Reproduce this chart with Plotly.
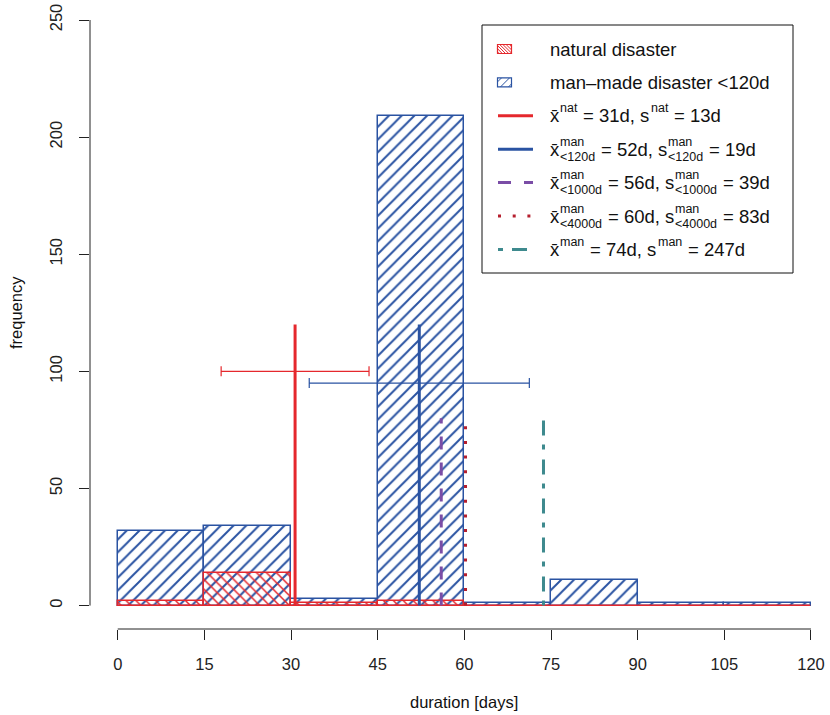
import plotly.graph_objects as go

# ---------------- data ----------------
bin_edges = [0, 15, 30, 45, 60, 75, 90, 105, 120]
man_counts = [32, 34, 3, 209, 1, 11, 1, 1]
nat_counts = [2, 14, 1, 2, 0, 0, 0, 0]

x_tick_vals = [0, 15, 30, 45, 60, 75, 90, 105, 120]
y_tick_vals = [0, 50, 100, 150, 200, 250]

mean_names = ["mean natural", "mean man-made <120d", "mean man-made <1000d",
              "mean man-made <4000d", "mean man-made all"]
mean_days = [30.7, 52.2, 56.0, 60.2, 73.7]
mean_line_top = [120, 120, 80, 80, 80]

sd_names = ["sd natural", "sd man-made <120d"]
sd_center = [30.7, 52.2]
sd_days = [12.8, 19.05]
sd_level = [100, 95]

# ---------------- styles ----------------
RED = "#E5282D"
BLUE = "#2A53A2"
PURPLE = "#7A4DA6"
DRED = "#B51F2E"
TEAL = "#3E8A8E"
AXC = "#222222"
FONT = "Liberation Sans, Arial, Helvetica, sans-serif"

mean_colors = [RED, BLUE, PURPLE, DRED, TEAL]
mean_dash = ["solid", "solid", "13px,13px", "3px,11.7px", "5px,9px,15px,10px"]
sd_colors = [RED, BLUE]

# plot area in pixels
L, R, T, B = 90, 10, 20, 86
W_, H_ = 830, 715
PW = W_ - L - R
PH = H_ - T - B
PX_PER_X = 5.777
x_range = [-4.8, -4.8 + PW / PX_PER_X]
y_range = [-10, 250]


def px(xp):
    return (xp - L) / PW


def py(yp):
    return (H_ - B - yp) / PH


centers = [(a + b) / 2 for a, b in zip(bin_edges[:-1], bin_edges[1:])]
widths = [b - a for a, b in zip(bin_edges[:-1], bin_edges[1:])]

fig = go.Figure()

fig.add_trace(go.Bar(
    x=centers, y=man_counts, width=widths, name="man-made disaster <120d",
    marker=dict(color=BLUE, line=dict(color=BLUE, width=1.5),
                pattern=dict(shape="/", size=9, solidity=0.22, fillmode="replace")),
    showlegend=False))
fig.add_trace(go.Bar(
    x=centers, y=nat_counts, width=widths, name="natural disaster",
    marker=dict(color=RED, line=dict(color=RED, width=1.5),
                pattern=dict(shape="\\", size=7, solidity=0.22, fillmode="replace")),
    showlegend=False))

for nm, m, top, c, d in zip(mean_names, mean_days, mean_line_top, mean_colors, mean_dash):
    fig.add_trace(go.Scatter(x=[m, m], y=[0, top], mode="lines", name=nm,
                             line=dict(color=c, width=3, dash=d), showlegend=False))

for nm, c, sd, lv, col in zip(sd_names, sd_center, sd_days, sd_level, sd_colors):
    fig.add_trace(go.Scatter(x=[c], y=[lv], mode="markers", name=nm,
                             marker=dict(size=1, color="rgba(0,0,0,0)"),
                             error_x=dict(type="data", array=[sd], color=col,
                                          thickness=1.2, width=5),
                             showlegend=False))

shapes = []
annotations = []

# axis lines (R style, detached)
shapes.append(dict(type="line", xref="x", yref="paper", x0=x_tick_vals[0], x1=x_tick_vals[-1],
                   y0=0, y1=0, line=dict(color=AXC, width=1)))
shapes.append(dict(type="line", xref="paper", yref="y", x0=0, x1=0,
                   y0=y_tick_vals[0], y1=y_tick_vals[-1], line=dict(color=AXC, width=1)))

# ---------------- custom legend ----------------
shapes.append(dict(type="rect", xref="paper", yref="paper",
                   x0=px(482), x1=px(793), y0=py(25), y1=py(273),
                   line=dict(color="#111", width=1), fillcolor="rgba(0,0,0,0)"))

row_y = [49 + 33.4 * i for i in range(7)]
TX = 549
FS = 18.5
fs = 12.5
CW = {' ': .278, '=': .584, 'd': .556, ',': .278, 's': .5, 'n': .556, 'a': .556,
      't': .278, 'm': .833, '<': .584, 'x': .5, '\u0304': 0.0}


def tw(s, size):
    return sum(CW.get(ch, .556) for ch in s) * size


def hatch_path(x0, x1, y0, y1, spacing, direction):
    segs = []
    if direction == "/":
        c = x0 + y0 + spacing / 2
        while c < x1 + y1:
            xa, xb = max(x0, c - y1), min(x1, c - y0)
            if xa < xb:
                segs.append((xa, c - xa, xb, c - xb))
            c += spacing
    else:
        c = x0 - y1 + spacing / 2
        while c < x1 - y0:
            xa, xb = max(x0, c + y0), min(x1, c + y1)
            if xa < xb:
                segs.append((xa, xa - c, xb, xb - c))
            c += spacing
    return " ".join("M{:.5f},{:.5f} L{:.5f},{:.5f}".format(px(a), py(b), px(cc), py(dd))
                    for a, b, cc, dd in segs)


def key_box(yc, col, spacing, direction):
    x0, x1, y0, y1 = 497.5, 511.5, yc - 4.5, yc + 4.5
    shapes.append(dict(type="path", xref="paper", yref="paper",
                       path=hatch_path(x0, x1, y0, y1, spacing, direction),
                       line=dict(color=col, width=1)))
    shapes.append(dict(type="rect", xref="paper", yref="paper",
                       x0=px(x0), x1=px(x1), y0=py(y1), y1=py(y0),
                       line=dict(color=col, width=1.2), fillcolor="rgba(0,0,0,0)"))


def key_line(yc, col, dash):
    shapes.append(dict(type="line", xref="paper", yref="paper",
                       x0=px(498), x1=px(533), y0=py(yc), y1=py(yc),
                       line=dict(color=col, width=3, dash=dash)))


def txt(x, y, s, size, angle=0, xanchor="left"):
    annotations.append(dict(x=px(x), y=py(y), xref="paper", yref="paper",
                            xanchor=xanchor, yanchor="middle", text=s, showarrow=False,
                            borderpad=0, textangle=angle,
                            font=dict(size=size, color="#111", family=FONT)))


def legend_row(y, pieces):
    x = TX
    for p in pieces:
        if p[0] == "main":
            s = p[1]
            lead = len(s) - len(s.lstrip(" "))
            x += tw(" " * lead, FS)
            s = s.strip(" ")
            txt(x, y, s, FS)
            x += tw(s, FS)
        else:
            sup, sub = p[1], p[2]
            if sup:
                txt(x + 1, y - 7.5, sup, fs)
            if sub:
                txt(x + 0.5, y + 7.5, sub, fs)
            x += max(tw(sup, fs), tw(sub, fs)) + 1.5


key_box(row_y[0], RED, 3.2, "\\")
key_box(row_y[1], BLUE, 8, "/")
for i, (c, d) in enumerate(zip(mean_colors, mean_dash)):
    key_line(row_y[2 + i], c, d)

XB = "x\u0304"
legend_row(row_y[0], [("main", "natural disaster")])
legend_row(row_y[1], [("main", "man\u2013made disaster <120d")])
legend_row(row_y[2], [("main", XB), ("pair", "nat", ""), ("main", " = 31d, s"),
                      ("pair", "nat", ""), ("main", " = 13d")])
legend_row(row_y[3], [("main", XB), ("pair", "man", "<120d"), ("main", " = 52d, s"),
                      ("pair", "man", "<120d"), ("main", " = 19d")])
legend_row(row_y[4], [("main", XB), ("pair", "man", "<1000d"), ("main", " = 56d, s"),
                      ("pair", "man", "<1000d"), ("main", " = 39d")])
legend_row(row_y[5], [("main", XB), ("pair", "man", "<4000d"), ("main", " = 60d, s"),
                      ("pair", "man", "<4000d"), ("main", " = 83d")])
legend_row(row_y[6], [("main", XB), ("pair", "man", ""), ("main", " = 74d, s"),
                      ("pair", "man", ""), ("main", " = 247d")])

# axis titles
txt(464, 702, "duration [days]", 16.5, xanchor="center")
txt(16, 313, "frequency", 16.5, angle=-90, xanchor="center")

fig.update_layout(
    width=W_, height=H_,
    margin=dict(l=L, r=R, t=T, b=B, autoexpand=False),
    paper_bgcolor="white", plot_bgcolor="white",
    barmode="overlay", bargap=0,
    showlegend=False,
    font=dict(family=FONT, color=AXC),
    shapes=shapes, annotations=annotations,
    xaxis=dict(range=x_range, tickvals=x_tick_vals, ticktext=[str(v) for v in x_tick_vals],
               ticks="outside", ticklen=10, tickwidth=1, tickcolor=AXC,
               showline=False, showgrid=False, zeroline=False,
               tickfont=dict(size=16.5, color=AXC, family=FONT),
               ticklabelstandoff=10, automargin=False),
    yaxis=dict(range=y_range, tickvals=y_tick_vals, ticktext=[str(v) for v in y_tick_vals],
               ticks="outside", ticklen=10, tickwidth=1, tickcolor=AXC, tickangle=-90,
               showline=False, showgrid=False, zeroline=False,
               tickfont=dict(size=16.5, color=AXC, family=FONT),
               ticklabelstandoff=10, automargin=False),
)

fig.write_html("out.html")
